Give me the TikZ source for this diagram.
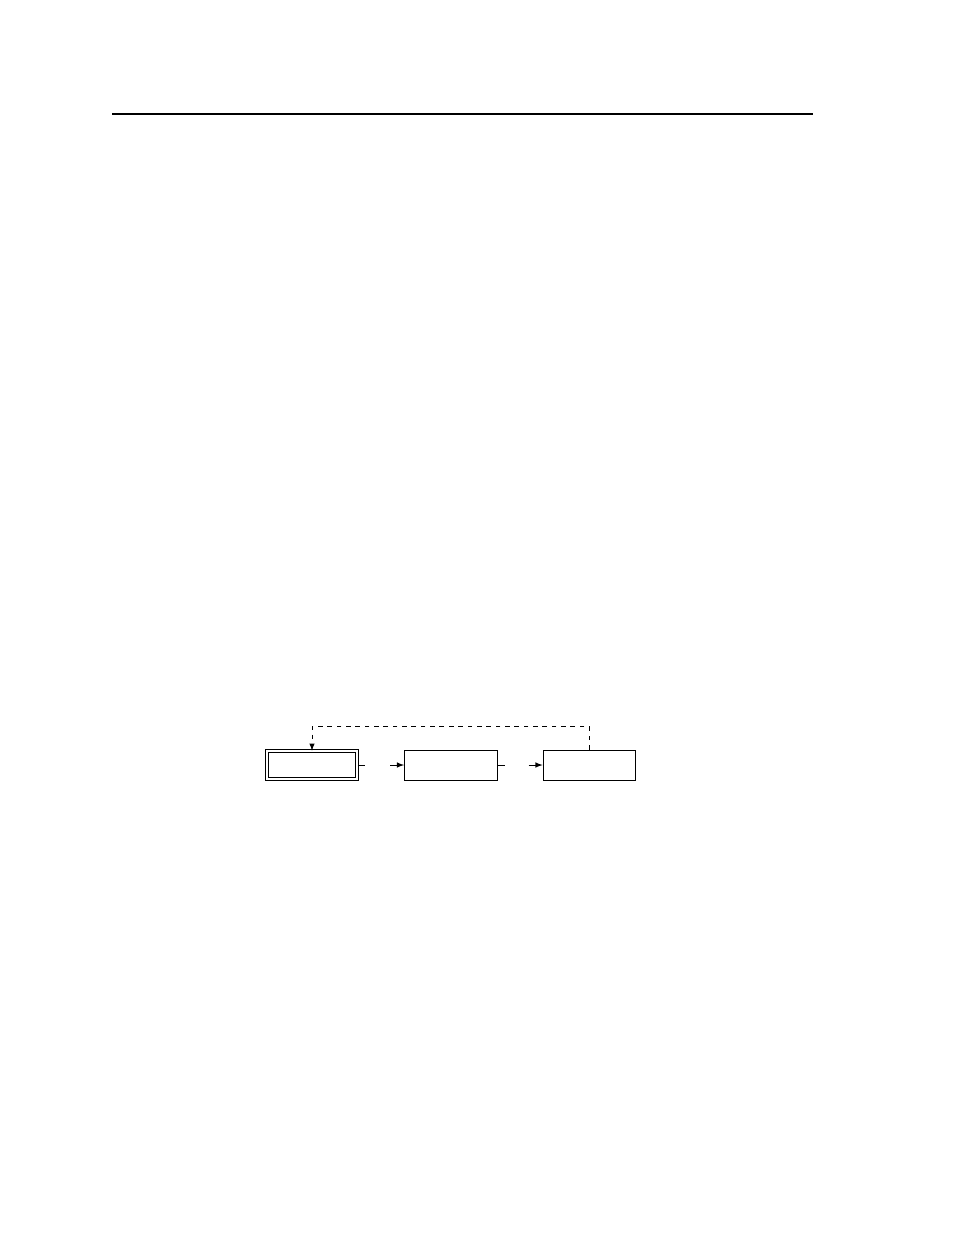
\documentclass[tikz,border=0pt]{standalone}
\usepackage{tikz}
\usetikzlibrary{shapes,arrows,positioning}

\tikzset{
  stagebox/.style={draw, line width=0.6pt, minimum width=59.6pt, minimum height=19.2pt, inner sep=0pt},
  firstbox/.style={stagebox, double, double distance=1.3pt, minimum width=58.2pt, minimum height=17.8pt},
  link/.style={line width=0.6pt}
}

\begin{document}
\begin{tikzpicture}[x=0.6415pt, y=-0.6415pt]
\useasboundingbox (0,0) rectangle (954,1235);
\draw[line width=1.7pt] (112,114) -- (813,114);
    \node[firstbox] (First) at (312,765) {};
    \node[stagebox] (Second) at (451,765) {};
    \node[stagebox] (Third) at (589.5,765) {};
    \coordinate[right=4.5pt of First.east] (outA);
    \coordinate[left=9pt of Second.west] (inB);
    \coordinate[right=4.5pt of Second.east] (outB);
    \coordinate[left=9pt of Third.west] (inC);
    \draw[link] (First.east) -- (outA);
    \draw[link,-latex] (inB) -- (Second.west);
    \draw[link] (Second.east) -- (outB);
    \draw[link,-latex] (inC) -- (Third.west);
    \draw[link,dashed,-latex] (Third.north) -- ++(0,-23) -| (First.north);
\end{tikzpicture}
\end{document}
